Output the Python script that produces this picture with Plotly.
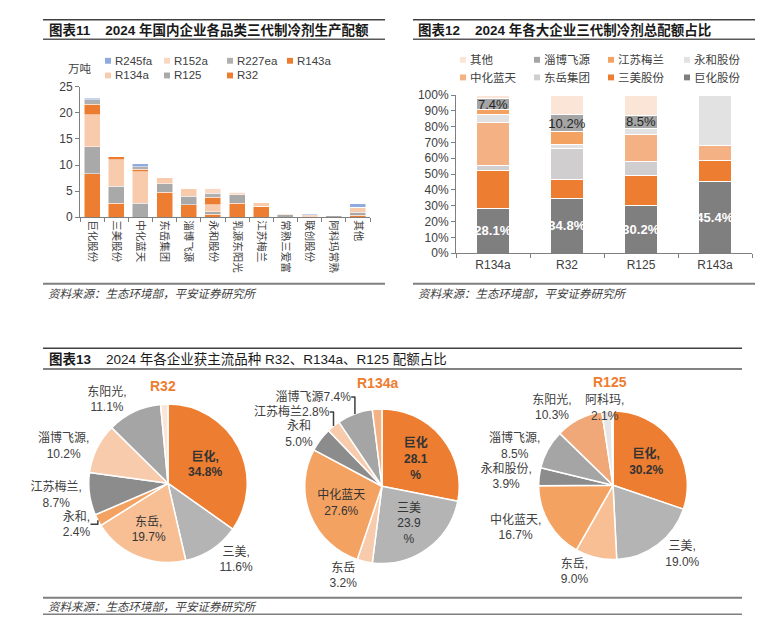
import plotly.graph_objects as go

W, H = 769, 638
def X(px):
    return px / W
def Y(py):
    return 1 - py / H

FONT = "Liberation Sans, Arial, Noto Sans CJK SC, sans-serif"
TXT = "#404040"

# ---------------- 图表11 data (万吨) ----------------
companies11 = ["巨化股份", "三美股份", "中化蓝天", "东岳集团", "淄博飞源", "永和股份",
               "乳源东阳光", "江苏梅兰", "常熟三爱富", "联创股份", "阿科玛常熟", "其他"]
series11 = ["R32", "R125", "R134a", "R143a", "R227ea", "R152a", "R245fa"]
r32_11 = [8.3, 2.7, 0, 4.8, 2.4, 0.6, 2.7, 2.1, 0, 0, 0, 0.4]
r125_11 = [5.2, 3.2, 2.7, 1.6, 1.6, 0.5, 1.6, 0, 0.45, 0, 0.35, 0.55]
r134a_11 = [6.1, 5.1, 6.0, 1.3, 1.55, 1.3, 0, 0.75, 0, 0, 0, 0.95]
r143a_11 = [2.0, 0.6, 0.5, 0, 0, 1.4, 0, 0, 0, 0, 0, 0]
r227ea_11 = [0.9, 0, 0.45, 0, 0, 0.8, 0, 0, 0, 0, 0, 0]
r152a_11 = [0, 0, 0, 0, 0, 1.0, 0.5, 0, 0.2, 0.45, 0, 0]
r245fa_11 = [0.3, 0, 0.6, 0, 0, 0, 0, 0, 0, 0.2, 0, 0.7]
values11 = [r32_11, r125_11, r134a_11, r143a_11, r227ea_11, r152a_11, r245fa_11]
colors11 = ["#ED7D31", "#A9A9A9", "#F8CBAD", "#EC7C30", "#B0B0B0", "#FAD7C0", "#8FAADC"]
legend11_rows = [["R245fa", "R152a", "R227ea", "R143a"], ["R134a", "R125", "R32"]]

# ---------------- 图表12 data (%) ----------------
refrigerants12 = ["R134a", "R32", "R125", "R143a"]
firms12 = ["巨化股份", "三美股份", "东岳集团", "中化蓝天", "永和股份", "江苏梅兰", "淄博飞源", "其他"]
juhua12 = [28.1, 34.8, 30.2, 45.4]
sanmei12 = [23.9, 11.6, 19.0, 13.4]
dongyue12 = [3.2, 19.7, 9.0, 0]
zhonghua12 = [27.6, 0, 16.7, 9.5]
yonghe12 = [5.0, 2.4, 3.9, 31.7]
meilan12 = [2.8, 8.7, 0, 0]
feiyuan12 = [7.4, 10.2, 8.5, 0]
other12 = [2.0, 12.6, 12.7, 0]
values12 = [juhua12, sanmei12, dongyue12, zhonghua12, yonghe12, meilan12, feiyuan12, other12]
colors12 = ["#7F7F7F", "#ED7D31", "#D0CECE", "#F4B183", "#E2E2E2", "#F4A261", "#A5A5A5", "#FBE5D6"]
legend12_rows = [["其他", "淄博飞源", "江苏梅兰", "永和股份"], ["中化蓝天", "东岳集团", "三美股份", "巨化股份"]]

# ---------------- 图表13 data (%) ----------------
r32_names = ["巨化", "三美", "东岳", "永和", "江苏梅兰", "淄博飞源", "东阳光", "其他"]
r32_shares = [34.8, 11.6, 19.7, 2.4, 8.7, 10.2, 11.1, 1.5]
r134a_names = ["巨化", "三美", "东岳", "中化蓝天", "永和", "江苏梅兰", "淄博飞源", "其他"]
r134a_shares = [28.1, 23.9, 3.2, 27.6, 5.0, 2.8, 7.4, 2.0]
r125_names = ["巨化", "三美", "东岳", "中化蓝天", "永和股份", "淄博飞源", "东阳光", "阿科玛", "其他"]
r125_shares = [30.2, 19.0, 9.0, 16.7, 3.9, 8.5, 10.3, 2.1, 0.3]

fig = go.Figure()

# chart 11 bars
for name, vals, col in zip(series11, values11, colors11):
    fig.add_trace(go.Bar(
        x=companies11, y=vals, name=name, xaxis="x", yaxis="y", width=0.66,
        marker=dict(color=col, line=dict(color="white", width=0.5)),
        showlegend=False, hoverinfo="x+y+name"))

# chart 12 bars
for i, (name, vals, col) in enumerate(zip(firms12, values12, colors12)):
    kw = {}
    if name == "巨化股份":
        kw = dict(text=[f"{v:.1f}%" for v in vals], textposition="inside",
                  insidetextanchor="middle", textangle=0, constraintext="none",
                  textfont=dict(color="white", size=13, family=FONT, weight="bold"))
    elif name == "淄博飞源":
        kw = dict(text=[f"{v:.1f}%" if v > 0 else "" for v in vals], textposition="inside",
                  insidetextanchor="middle", textangle=0, constraintext="none",
                  textfont=dict(color="#262626", size=13, family=FONT))
    fig.add_trace(go.Bar(
        x=refrigerants12, y=vals, name=name, xaxis="x2", yaxis="y2", width=0.45,
        marker=dict(color=col, line=dict(color="white", width=1)),
        showlegend=False, **kw))

# chart 13 pies
def pie(names, shares, colors, positions, templates, cx, cy, r):
    return go.Pie(
        labels=names, values=shares, sort=False, direction="clockwise", rotation=0,
        marker=dict(colors=colors, line=dict(color="white", width=1.5)),
        textposition=positions, texttemplate=templates,
        insidetextorientation="horizontal",
        textfont=dict(size=12, color="#333333", family=FONT),
        outsidetextfont=dict(size=12, color="#404040", family=FONT),
        domain=dict(x=[X(cx - r), X(cx + r)], y=[Y(cy + r), Y(cy - r)]),
        showlegend=False, hoverinfo="label+value")

T = "%{label},<br>%{value:.1f}%"
TB = "<b>%{label},<br>%{value:.1f}%</b>"
fig.add_trace(pie(
    r32_names, r32_shares,
    ["#ED7D31", "#B4B4B4", "#F8BF95", "#F4A261", "#8C8C8C", "#F8CBAD", "#A5A5A5", "#FBE5D6"],
    ["inside", "outside", "inside", "outside", "outside", "outside", "outside", "none"],
    [TB, T, T, T, T, T, T, ""], 168, 487, 81))

fig.add_trace(pie(
    r134a_names, r134a_shares,
    ["#ED7D31", "#B4B4B4", "#F8CBAD", "#F4A261", "#8C8C8C", "#F8CBAD", "#A5A5A5", "#F4B183"],
    ["inside", "inside", "outside", "inside", "outside", "outside", "outside", "none"],
    ["<b>%{label}<br>%{value:.1f}<br>%</b>", "%{label}<br>%{value:.1f}<br>%",
     "%{label}<br>%{value:.1f}%", "%{label}<br>%{value:.1f}%", "%{label}<br>%{value:.1f}%",
     "%{label}%{value:.1f}%", "%{label}%{value:.1f}%", ""], 382, 490, 79))

fig.add_trace(pie(
    r125_names, r125_shares,
    ["#ED7D31", "#B4B4B4", "#F8BF95", "#F4A261", "#8C8C8C", "#A5A5A5", "#F0A878", "#E7E6E6", "#FFFFFF"],
    ["inside", "outside", "outside", "outside", "outside", "outside", "outside", "none", "none"],
    [TB, T, T, T, T, T, T, "", ""], 613, 489, 76))

axis_common = dict(showgrid=False, zeroline=False, showline=True, linecolor="#7F7F7F",
                   linewidth=1, ticks="outside", ticklen=4, tickcolor="#7F7F7F",
                   tickfont=dict(size=12, color=TXT, family=FONT))

fig.update_layout(
    width=W, height=H, margin=dict(l=0, r=0, t=0, b=0),
    paper_bgcolor="white", plot_bgcolor="white",
    barmode="stack", font=dict(family=FONT, color=TXT),
    xaxis=dict(domain=[X(80), X(370)], anchor="y", type="category", tickangle=90,
               tickson="boundaries", **{**axis_common, "tickfont": dict(size=10.5, color=TXT, family=FONT)}),
    yaxis=dict(domain=[Y(215), Y(81.5)], anchor="x", range=[0, 25], dtick=5, **axis_common),
    xaxis2=dict(domain=[X(456), X(752)], anchor="y2", type="category",
                tickson="boundaries", **axis_common),
    yaxis2=dict(domain=[Y(251.7), Y(90)], anchor="x2", range=[0, 100], dtick=10,
                ticksuffix="%", **axis_common),
)

shapes = []
annotations = []

def hline(x0, x1, y, color="#404040", width=1.5):
    shapes.append(dict(type="line", xref="paper", yref="paper", x0=X(x0), x1=X(x1),
                       y0=Y(y), y1=Y(y), line=dict(color=color, width=width)))

def text(x, y, s, size=12, color=TXT, xanchor="left", **kw):
    annotations.append(dict(xref="paper", yref="paper", x=X(x), y=Y(y), text=s,
                            showarrow=False, xanchor=xanchor, yanchor="middle",
                            font=dict(size=size, color=color, family=FONT), **kw))

# headers
hline(43, 385, 13); hline(43, 385, 33, "#595959")
hline(413, 755, 13); hline(413, 755, 33, "#595959")
hline(43, 742, 349); hline(43, 742, 370, "#595959")
text(47, 24, "<b>图表11</b>    <b>2024 年国内企业各品类三代制冷剂生产配额</b>", 13.5, "#1a1a1a")
text(416, 24, "<b>图表12</b>    <b>2024 年各大企业三代制冷剂总配额占比</b>", 13.5, "#1a1a1a")
text(47, 360, "<b>图表13</b>    2024 年各企业获主流品种 R32、R134a、R125 配额占比", 13.5, "#1a1a1a")

# sources
src = "<i>资料来源：生态环境部，平安证券研究所</i>"
hline(43, 385, 283, "#7F7F7F", 2); text(46, 293, src, 11.5, "#404040")
hline(413, 755, 283, "#7F7F7F", 2); text(416, 293, src, 11.5, "#404040")
hline(43, 742, 604, "#7F7F7F", 2); text(46, 613, src, 11.5, "#404040")
hline(43, 742, 621, "#7F7F7F", 1.5)

# unit
text(80, 63, "万吨", 11.5, TXT, xanchor="center")

# legends (manual)
def legend(rows, xs, ys, names, colors):
    cmap = dict(zip(names, colors))
    for row, y in zip(rows, ys):
        for nm, x in zip(row, xs):
            shapes.append(dict(type="rect", xref="paper", yref="paper",
                               x0=X(x - 3), x1=X(x + 3), y0=Y(y + 3), y1=Y(y - 3),
                               fillcolor=cmap[nm], line=dict(width=0)))
            text(x + 5, y, nm, 11.5, TXT)

legend(legend11_rows, [108, 167, 230, 290], [55, 70], series11, colors11)
legend(legend12_rows, [463, 537, 611, 687], [54, 72], firms12, colors12)

# pie titles
for x, y, s in [(163, 388, "R32"), (377, 384, "R134a"), (610, 383, "R125")]:
    text(x, y, "<b>" + s + "</b>", 14, "#ED7D31", xanchor="center")

# label of the thin 阿科玛 slice (kept clear of the R125 title)
text(604, 410, f"{r125_names[7]},<br>{r125_shares[7]:.1f}%", 12, TXT, xanchor="center")

fig.update_layout(shapes=shapes, annotations=annotations)
fig.write_html("out.html", config={"displayModeBar": False},
               post_script="document.body.style.margin='0';")
